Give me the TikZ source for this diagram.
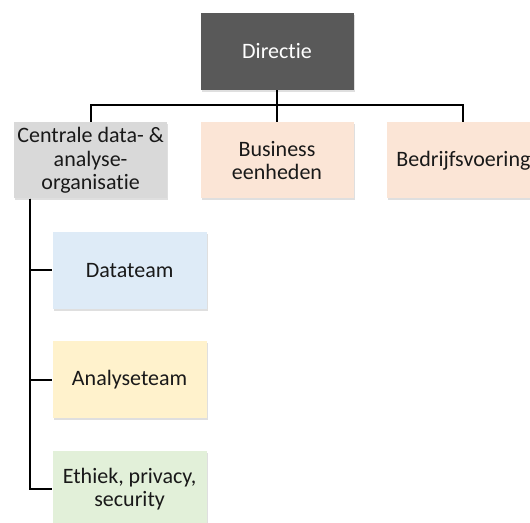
\documentclass[tikz,border=0pt]{standalone}
\usepackage{fontspec}
\setmainfont{Carlito}[Ligatures=NoCommon]
\usepackage{tikz}
\usetikzlibrary{positioning}
\usetikzlibrary{shadows}

\definecolor{dirgrey}{HTML}{595959}
\definecolor{orggrey}{HTML}{D9D9D9}
\definecolor{unitpeach}{HTML}{FBE5D6}
\definecolor{datblue}{HTML}{DEEBF7}
\definecolor{anayellow}{HTML}{FFF2CC}
\definecolor{ethgreen}{HTML}{E2F0D9}

\begin{document}
\begin{tikzpicture}[
	unit/.style={rectangle, minimum width=153pt, minimum height=76pt, inner sep=0pt, align=center,
		font=\fontsize{22pt}{23.5pt}\selectfont, text=black!90,
		drop shadow={shadow xshift=1pt, shadow yshift=-2pt, opacity=0.25}},
	team/.style={unit, minimum width=154pt, minimum height=77pt},
	link/.style={draw=black, line width=2pt},
]
	\useasboundingbox (0,0) rectangle (530pt,-522pt);

	\node[unit, fill=dirgrey, text=white, minimum height=77pt] (dir) at (277pt,-51.5pt) {Directie};
	\node[unit, fill=unitpeach, below=32pt of dir] (bus) {Business\\eenheden};
	\node[unit, fill=orggrey, left=33pt of bus] (cda) {Centrale data- \&\\analyse-\\organisatie};
	\node[unit, fill=unitpeach, right=33pt of bus] (bed) {Bedrijfsvoering};

	\node[team, fill=datblue, below=33pt of cda, xshift=39pt] (dat) {Datateam};
	\node[team, fill=anayellow, below=32pt of dat] (ana) {Analyseteam};
	\node[team, fill=ethgreen, below=32pt of ana] (eth) {Ethiek, privacy,\\security};

	\coordinate (hub) at ([yshift=-15pt]dir.south);
	\coordinate (spine) at ([xshift=16pt]cda.south west);

	\draw[link] (dir.south) -- (hub);
	\draw[link] (hub) -| (cda.north);
	\draw[link] (hub) -| (bus.north);
	\draw[link] (hub) -| (bed.north);

	\draw[link] (spine) |- (dat.west);
	\draw[link] (spine) |- (ana.west);
	\draw[link] (spine) |- (eth.west);
\end{tikzpicture}
\end{document}
